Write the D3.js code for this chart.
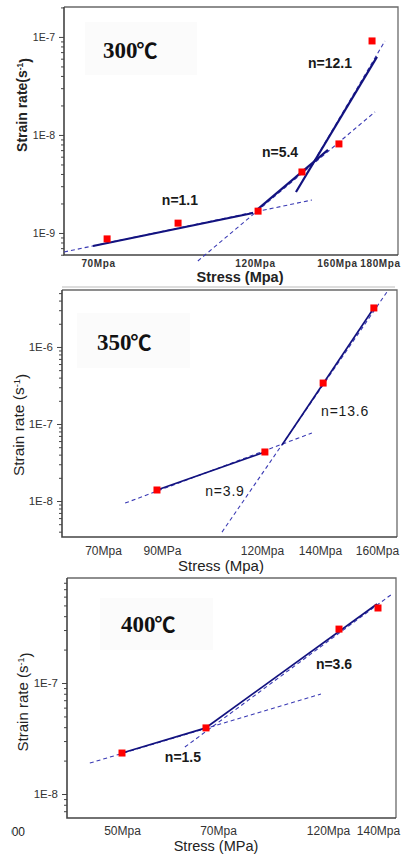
<!DOCTYPE html>
<meta charset="utf-8">
<style>
    body { margin: 0; background: #fff; }
    svg { display: block; font-family: "Liberation Sans", Arial, sans-serif; }
    .tick line { stroke: #444; }
    .dash { fill: none; stroke: #3a3ab4; stroke-width: 1.1; stroke-dasharray: 4,3; }
    .fit { fill: none; stroke: #12127f; }
    .pt { fill: #ff0000; }
</style>
<svg width="404" height="854"></svg>
<script src="https://d3js.org/d3.v7.min.js"></script>
<script>
    // ---- 300 C ----
    var ticks300 = [70, 120, 160, 180];
    var tickLabels300 = ["70Mpa", "120Mpa", "160Mpa", "180Mpa"];
    var decades300 = [1e-9, 1e-8, 1e-7];
    var stress300 = [72.9, 95.5, 121.5, 142.9, 160.9, 176.3];
    var rate300 = [8.7e-10, 1.26e-9, 1.67e-9, 4.19e-9, 8.1e-9, 9.1e-8];
    var fitNames300 = ["n=1.1", "n=5.4", "n=12.1"];
    var fitDash300 = [[[59.2, 6.4e-10], [147.8, 2.17e-9]], [[101.8, 5.18e-10], [177.7, 1.72e-8]], [[140, 2.62e-9], [182.3, 9.1e-8]]];
    var fitSolid300 = [[[68.4, 7.37e-10], [119.4, 1.6e-9]], [[121.5, 1.76e-9], [155.6, 7.03e-9]], [[140, 2.62e-9], [178.6, 6.25e-8]]];
    var fitLabelAt300 = [[96.1, 1.93e-9], [132.2, 5.97e-9], [156.6, 4.83e-8]];

    // ---- 350 C ----
    var ticks350 = [70, 90, 120, 140, 160];
    var tickLabels350 = ["70Mpa", "90MPa", "120Mpa", "140Mpa", "160Mpa"];
    var decades350 = [1e-8, 1e-7, 1e-6];
    var stress350 = [88.3, 121.0, 141.1, 158.9];
    var rate350 = [1.39e-8, 4.33e-8, 3.4e-7, 3.21e-6];
    var fitNames350 = ["n=3.9", "n=13.6"];
    var fitDash350 = [[[77.5, 9.4e-9], [137.2, 7.64e-8]], [[108.0, 3.95e-9], [163.5, 5.18e-6]]];
    var fitSolid350 = [[[88.3, 1.39e-8], [121.0, 4.33e-8]], [[126.9, 5.33e-8], [158.9, 3.21e-6]]];
    var fitLabelAt350 = [[108.9, 1.16e-8], [148.8, 1.27e-7]];

    // ---- 400 C ----
    var ticks400 = [50, 70, 120, 140];
    var tickLabels400 = ["50Mpa", "70Mpa", "120Mpa", "140Mpa"];
    var decades400 = [1e-8, 1e-7];
    var stress400 = [50, 67.5, 124.4, 140];
    var rate400 = [2.34e-8, 3.94e-8, 3.06e-7, 4.74e-7];
    var fitNames400 = ["n=1.5", "n=3.6"];
    var fitDash400 = [[[43.3, 1.9e-8], [116.8, 7.96e-8]], [[63.1, 2.65e-8], [145.6, 6.33e-7]]];
    var fitSolid400 = [[[50, 2.34e-8], [67.5, 3.94e-8]], [[67.7, 4.02e-8], [139.6, 5.15e-7]]];
    var fitLabelAt400 = [[62.7, 1.94e-8], [122.4, 1.34e-7]];

    var svg = d3.select("svg");

    var panels = [
        {title: "300", ticks: ticks300, tickLabels: tickLabels300, decades: decades300,
         stress: stress300, rate: rate300, fitNames: fitNames300, fitDash: fitDash300,
         fitSolid: fitSolid300, fitLabelAt: fitLabelAt300,
         left: 64, right: 398, top: 7, bottom: 255, tickX: [98, 255, 337, 380],
         yDomain: [5.96e-10, 2.02e-7], bold: true, fitWidth: 2.2,
         xLabelFont: 10, xLabelDy: 12, yLabelFont: 10.5, labelFont: 14,
         xTitle: "Stress (Mpa)", xTitleAt: [240, 282], xTitleFont: 14.5,
         yTitle: "Strain rate(s", yTitleAt: [27, 105], yTitleFont: 14,
         titleAt: [103, 58], titleBox: [85, 22, 112, 53], sep: 287},
        {title: "350", ticks: ticks350, tickLabels: tickLabels350, decades: decades350,
         stress: stress350, rate: rate350, fitNames: fitNames350, fitDash: fitDash350,
         fitSolid: fitSolid350, fitLabelAt: fitLabelAt350,
         left: 62, right: 397, top: 290, bottom: 537, tickX: [103, 162, 262, 320, 377],
         yDomain: [3.41e-9, 5.49e-6], bold: false, fitWidth: 1.7,
         xLabelFont: 12, xLabelDy: 18, yLabelFont: 11.5, labelFont: 14,
         xTitle: "Stress (Mpa)", xTitleAt: [221, 571], xTitleFont: 15,
         yTitle: "Strain rate (s", yTitleAt: [24, 425], yTitleFont: 15.5,
         titleAt: [97, 350], titleBox: [77, 313, 113, 55]},
        {title: "400", ticks: ticks400, tickLabels: tickLabels400, decades: decades400,
         stress: stress400, rate: rate400, fitNames: fitNames400, fitDash: fitDash400,
         fitSolid: fitSolid400, fitLabelAt: fitLabelAt400,
         left: 67, right: 396, top: 578, bottom: 818, tickX: [122, 218, 328, 378],
         yDomain: [6.08e-9, 8.83e-7], bold: true, fitWidth: 1.7,
         xLabelFont: 12, xLabelDy: 17, yLabelFont: 11.5, labelFont: 14,
         xTitle: "Stress (MPa)", xTitleAt: [216, 851], xTitleFont: 14.5,
         yTitle: "Strain rate (s", yTitleAt: [28, 702], yTitleFont: 15,
         titleAt: [121, 632], titleBox: [100, 598, 113, 52]}
    ];

    panels.forEach(drawPanel);

    // clipped leftover label in the bottom corner
    svg.append("clipPath").attr("id", "cut")
        .append("rect").attr("x", 11).attr("y", 815).attr("width", 30).attr("height", 30);
    svg.append("text")
        .attr("clip-path", "url(#cut)")
        .attr("x", 5).attr("y", 836)
        .style("font-size", "12px").style("fill", "#222")
        .text("000");

    function drawPanel(p) {
        var x = d3.scaleLinear().domain(p.ticks).range(p.tickX);
        var y = d3.scaleLog().domain(p.yDomain).range([p.bottom, p.top]);
        var g = svg.append("g");

        g.append("rect")
            .attr("x", p.titleBox[0]).attr("y", p.titleBox[1])
            .attr("width", p.titleBox[2]).attr("height", p.titleBox[3])
            .attr("fill", "#fbfbfb");

        // frame: lighter top / right
        g.append("path")
            .attr("d", "M" + p.left + "," + p.top + "H" + p.right + "V" + p.bottom)
            .attr("fill", "none").attr("stroke", "#6a6a6a").attr("stroke-width", 1.3);

        // minor ticks
        var minor = [];
        var lo = Math.floor(Math.log10(p.yDomain[0])), hi = Math.ceil(Math.log10(p.yDomain[1]));
        for (var e = lo; e < hi; e++) {
            for (var k = 2; k < 10; k++) {
                var v = k * Math.pow(10, e);
                if (v > p.yDomain[0] && v < p.yDomain[1]) minor.push(v);
            }
        }
        g.append("g")
            .attr("transform", "translate(" + p.left + ",0)")
            .call(d3.axisLeft(y).tickValues(minor).tickSize(3).tickFormat(""))
            .call(function(s) { s.select(".domain").remove(); });

        var yAxis = g.append("g")
            .attr("transform", "translate(" + p.left + ",0)")
            .call(d3.axisLeft(y).tickValues(p.decades).tickSize(5).tickPadding(4)
                .tickFormat(function(d) { return "1E" + Math.round(Math.log10(d)); }));
        yAxis.select(".domain").remove();
        yAxis.selectAll("text")
            .style("font-size", p.yLabelFont + "px")
            .style("font-family", "'Liberation Sans', Arial, sans-serif")
            .attr("fill", "#333");

        var xAxis = g.append("g")
            .attr("transform", "translate(0," + p.bottom + ")")
            .call(d3.axisBottom(x).tickValues(p.ticks).tickSize(0)
                .tickFormat(function(d, i) { return p.tickLabels[i]; }));
        xAxis.select(".domain").remove();
        xAxis.selectAll("text")
            .attr("y", p.xLabelDy).attr("dy", null)
            .style("font-size", p.xLabelFont + "px")
            .style("font-family", "'Liberation Sans', Arial, sans-serif")
            .style("font-weight", p.bold && p.xLabelFont < 11 ? "bold" : "normal")
            .style("letter-spacing", p.xLabelFont < 11 ? "0.6px" : "0px")
            .attr("fill", "#333");

        // left / bottom axis lines
        g.append("path")
            .attr("d", "M" + p.left + "," + p.top + "V" + p.bottom + "H" + p.right)
            .attr("fill", "none").attr("stroke", "#444").attr("stroke-width", 1.6);

        var line = d3.line()
            .x(function(d) { return x(d[0]); })
            .y(function(d) { return y(d[1]); });

        g.selectAll(".dash")
            .data(p.fitDash)
            .enter().append("path")
            .attr("class", "dash")
            .attr("d", line);

        g.selectAll(".fit")
            .data(p.fitSolid)
            .enter().append("path")
            .attr("class", "fit")
            .attr("stroke-width", p.fitWidth)
            .attr("d", line);

        g.selectAll(".pt")
            .data(p.stress)
            .enter().append("rect")
            .attr("class", "pt")
            .attr("x", function(d) { return x(d) - 3.5; })
            .attr("y", function(d, i) { return y(p.rate[i]) - 3.5; })
            .attr("width", 7).attr("height", 7);

        g.selectAll(".nlab")
            .data(p.fitNames)
            .enter().append("text")
            .attr("class", "nlab")
            .attr("x", function(d, i) { return x(p.fitLabelAt[i][0]); })
            .attr("y", function(d, i) { return y(p.fitLabelAt[i][1]); })
            .attr("text-anchor", "middle")
            .style("font-size", p.labelFont + "px")
            .style("font-weight", p.bold ? "bold" : "normal")
            .style("letter-spacing", p.bold ? "0px" : "0.8px")
            .attr("fill", "#1a1a1a")
            .text(function(d) { return d; });

        // axis titles
        g.append("text")
            .attr("x", p.xTitleAt[0]).attr("y", p.xTitleAt[1])
            .attr("text-anchor", "middle")
            .style("font-size", p.xTitleFont + "px")
            .style("font-weight", p.title === "300" ? "bold" : "normal")
            .attr("fill", "#222")
            .text(p.xTitle);

        var yt = g.append("text")
            .attr("transform", "translate(" + p.yTitleAt[0] + "," + p.yTitleAt[1] + ") rotate(-90)")
            .attr("text-anchor", "middle")
            .style("font-size", p.yTitleFont + "px")
            .style("font-weight", p.title === "300" ? "bold" : "normal")
            .attr("fill", "#222");
        yt.append("tspan").text(p.yTitle);
        yt.append("tspan").attr("dy", "-0.45em").style("font-size", "0.6em").text("-1");
        yt.append("tspan").attr("dy", "0.45em").text(")");

        // temperature title
        var tt = g.append("text")
            .attr("x", p.titleAt[0]).attr("y", p.titleAt[1])
            .style("font-family", "'Liberation Serif', 'Times New Roman', serif")
            .style("font-size", "23px")
            .style("font-weight", "bold")
            .attr("fill", "#111");
        tt.append("tspan").text(p.title);
        tt.append("tspan")
            .style("font-family", "'Noto Sans CJK SC', 'DejaVu Serif', serif")
            .style("font-weight", "bold")
            .style("font-size", "21px")
            .attr("dx", "-1")
            .text("\u2103");

        if (p.sep) {
            svg.append("line")
                .attr("x1", p.left - 2).attr("x2", p.right - 3)
                .attr("y1", p.sep).attr("y2", p.sep)
                .attr("stroke", "#bbb").attr("stroke-width", 1);
        }
    }
</script>
